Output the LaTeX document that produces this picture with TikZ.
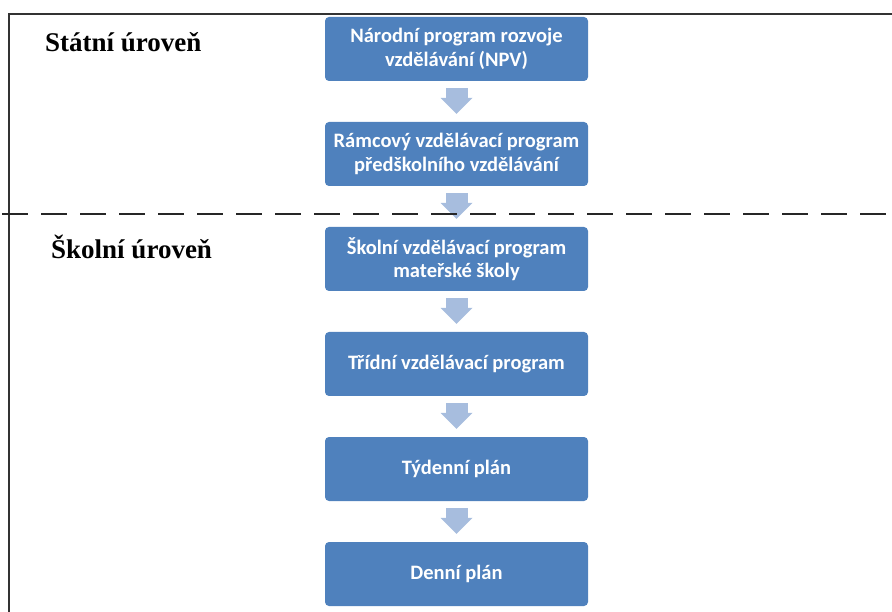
\documentclass[tikz,border=0pt]{standalone}
\usepackage{fontspec}
\setmainfont{Liberation Serif}
\newfontfamily\boxfont{Carlito}
\usepackage{tikz}
\usetikzlibrary{arrows.meta}

\definecolor{boxblue}{RGB}{79,129,189}
\definecolor{arrowblue}{RGB}{167,189,222}

\begin{document}
\begin{tikzpicture}[x=1pt, y=-1pt,
    level/.style={font=\bfseries\fontsize{27}{30}\selectfont, anchor=base west, inner sep=0pt},
    stage/.style={fill=boxblue, text=white, rounded corners=4pt, align=center,
      minimum width=263pt, minimum height=64pt, inner sep=2pt,
      font=\boxfont\bfseries\fontsize{20.5}{23.5}\selectfont},
    flow/.style={draw=arrowblue, line width=22pt,
      -{Triangle[width=32pt, length=16pt, line width=0pt]}}]
  \useasboundingbox (0,0) rectangle (892,612);

  % levels
  \node[level] (statni) at (45,52) {Státní úroveň};
  \node[level] (skolni) at (51,259) {Školní úroveň};

  % stages
  \node[stage] (npv) at (456.5,49) {Národní program  rozvoje\\vzdělávání (NPV)};
  \node[stage] (rvp) at (456.5,154) {Rámcový vzdělávací program\\předškolního vzdělávání};
  \node[stage] (svp) at (456.5,259) {Školní vzdělávací program\\mateřské školy};
  \node[stage] (tvp) at (456.5,364) {Třídní vzdělávací program};
  \node[stage] (tyden) at (456.5,469) {Týdenní plán};
  \node[stage] (den) at (456.5,574) {Denní plán};

  \draw[flow] ([yshift=-7pt]npv.south) -- ([yshift=8pt]rvp.north);
  \draw[flow] ([yshift=-7pt]rvp.south) -- ([yshift=8pt]svp.north);
  \draw[flow] ([yshift=-7pt]svp.south) -- ([yshift=8pt]tvp.north);
  \draw[flow] ([yshift=-7pt]tvp.south) -- ([yshift=8pt]tyden.north);
  \draw[flow] ([yshift=-7pt]tyden.south) -- ([yshift=8pt]den.north);

  % frame and border between levels
  \draw[line width=2pt, black!80] (8.5,612) -- (8.5,14) -- (892,14);
  \draw[line width=2pt, black!85, dash pattern=on 26pt off 13pt] (2,214) -- (892,214);
\end{tikzpicture}
\end{document}
